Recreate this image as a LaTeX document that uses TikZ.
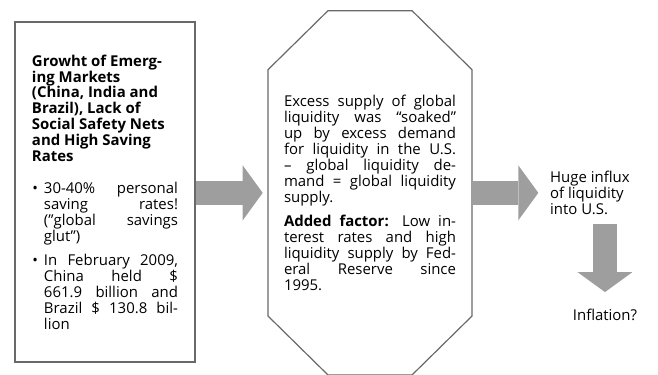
\documentclass[tikz,border=0pt]{standalone}
\usepackage{fontspec}
\setmainfont{Open Sans}
\usepackage{tikz}
\usetikzlibrary{arrows.meta, positioning}
\tolerance=10000
\hbadness=10000
\definecolor{boxgray}{RGB}{105,105,105}
\definecolor{arrowgray}{RGB}{158,158,158}
\newcommand{\bull}{\par\vspace{8bp}\hangindent=12bp\hangafter=0\noindent\llap{\textbullet\hspace{6bp}}}

\begin{document}
\begin{tikzpicture}[x=1bp, y=-1bp,
    txt/.style={font=\fontsize{15}{16}\selectfont},
    outline/.style={draw=boxgray, line width=1.2bp},
    box/.style={txt, outline, align=justify},
    flow/.style={draw=arrowgray, line width=23.3bp, -{Triangle[length=20bp, width=55bp, line width=0pt]}}]
    \useasboundingbox (0,0) rectangle (658,374);
    \node (growth) at (105,192) [box, rectangle, minimum width=180bp, minimum height=340bp, text width=146bp]
        {\textbf{Growht of Emerg-\\ing Markets\\(China, India and\\Brazil), Lack of\\Social Safety Nets\\and High Saving\\Rates}\par\vspace{8bp}
         \bull 30-40\% personal\linebreak saving rates!\linebreak (”global savings\linebreak glut”)
         \bull In February 2009,\linebreak China held \$\linebreak 661.9 billion and\linebreak Brazil \$ 130.8 bil-\linebreak lion\par};
    \node (excess) at (370,192.85) [txt, align=justify, outer sep=0, minimum width=204bp, minimum height=364.3bp, text width=172bp]
        {Excess supply of global\linebreak liquidity was “soaked”\linebreak up by excess demand\linebreak for liquidity in the U.S.\linebreak
         -- global liquidity de-\linebreak mand = global liquidity\linebreak supply.\par\vspace{8bp}
         \textbf{Added factor:} Low in-\linebreak terest rates and high\linebreak liquidity supply by Fed-\linebreak eral Reserve since\linebreak 1995.\par};
    \draw[outline] ([yshift=-59bp]excess.north west) -- ([xshift=60bp]excess.north west)
        -- ([xshift=-60bp]excess.north east) -- ([yshift=-59bp]excess.north east)
        -- ([yshift=59bp]excess.south east) -- ([xshift=-60bp]excess.south east)
        -- ([xshift=60bp]excess.south west) -- ([yshift=59bp]excess.south west) -- cycle;
    \node (influx) at (550,193) [txt, anchor=west, align=left, inner sep=0] {Huge influx\\of liquidity\\into U.S.};
    \node (inflation) at (572.7,320.7) [txt, anchor=base west, inner sep=0] {Inflation?};
    \draw[flow, shorten >=5.3bp] (excess.west -| growth.east) -- (excess.west);
    \draw[flow, shorten >=11.7bp] (excess.east) -- (excess.east -| influx.west);
    \draw[flow, shorten <=9bp, shorten >=17bp] (inflation.north |- influx.south) -- (inflation.north);
\end{tikzpicture}
\end{document}
